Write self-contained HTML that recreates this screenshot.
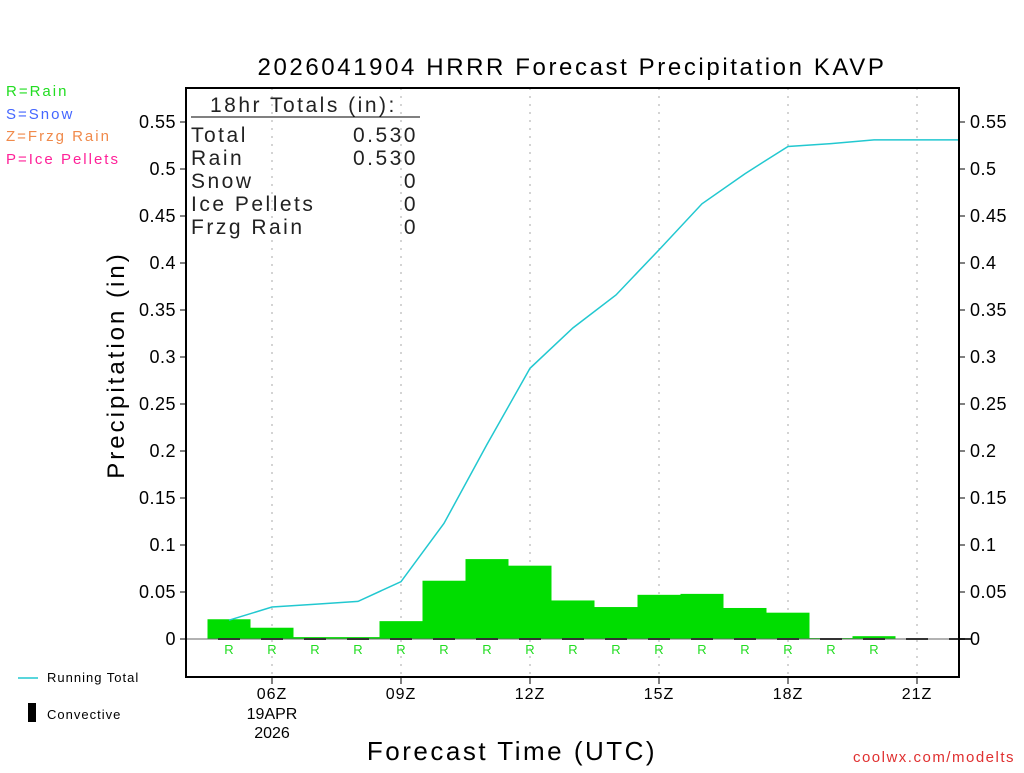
<!DOCTYPE html>
<html><head><meta charset="utf-8"><style>
body{margin:0;background:#fff;width:1024px;height:768px;overflow:hidden}
svg{font-family:"Liberation Sans","DejaVu Sans",sans-serif}
</style></head><body>
<svg id="c" width="1024" height="768" xmlns="http://www.w3.org/2000/svg">
<rect width="1024" height="768" fill="#fff"/>
<text x="572" y="75" font-size="24" text-anchor="middle" letter-spacing="2.6">2026041904 HRRR Forecast Precipitation KAVP</text>
<g font-size="15" letter-spacing="2">
<text x="6" y="96" fill="#22dd22">R=Rain</text>
<text x="6" y="119" fill="#4466ff">S=Snow</text>
<text x="6" y="141" fill="#f08a4b">Z=Frzg Rain</text>
<text x="6" y="164" fill="#ff2299">P=Ice Pellets</text>
</g>
<g id="grid"></g>
<g id="marks"></g>
<rect x="186" y="88" width="773" height="589" fill="none" stroke="#000" stroke-width="2"/>
<g id="axes" font-size="18"></g>
<text transform="translate(124,365) rotate(-90)" font-size="24" text-anchor="middle" letter-spacing="3">Precipitation (in)</text>
<text x="512" y="760" font-size="26" text-anchor="middle" letter-spacing="2.5">Forecast Time (UTC)</text>
<text x="1015" y="762" font-size="15" fill="#e03030" text-anchor="end" letter-spacing="1.5">coolwx.com/modelts</text>
<g font-size="21" letter-spacing="2.5" fill="#222">
<text x="210" y="112">18hr Totals (in):</text>
<line x1="191" y1="117" x2="420" y2="117" stroke="#000"/>
<text x="191" y="142">Total</text><text x="418" y="142" text-anchor="end">0.530</text>
<text x="191" y="165">Rain</text><text x="418" y="165" text-anchor="end">0.530</text>
<text x="191" y="188">Snow</text><text x="418" y="188" text-anchor="end">0</text>
<text x="191" y="211">Ice Pellets</text><text x="418" y="211" text-anchor="end">0</text>
<text x="191" y="234">Frzg Rain</text><text x="418" y="234" text-anchor="end">0</text>
</g>
<g font-size="13" letter-spacing="1">
<line x1="18" y1="678" x2="38" y2="678" stroke="#22c8d0" stroke-width="1.5"/>
<text x="47" y="682">Running Total</text>
<rect x="28" y="703" width="8" height="19" fill="#000"/>
<text x="47" y="719">Convective</text>
</g>
</svg>
<script>
const hours=[5,6,7,8,9,10,11,12,13,14,15,16,17,18,19,20,21,22];
const hourlyPrecip=[0.021,0.012,0.002,0.002,0.019,0.062,0.085,0.078,0.041,0.034,0.047,0.048,0.033,0.028,0.001,0.003,0,0];
const runningTotal=[0.020,0.034,0.037,0.040,0.061,0.123,0.207,0.288,0.331,0.366,0.414,0.463,0.495,0.524,0.527,0.531,0.531,0.531];
const precipType=["R","R","R","R","R","R","R","R","R","R","R","R","R","R","R","R","",""];
const yTicks=[0,0.05,0.1,0.15,0.2,0.25,0.3,0.35,0.4,0.45,0.5,0.55];
const yTickLabels=["0","0.05","0.1","0.15","0.2","0.25","0.3","0.35","0.4","0.45","0.5","0.55"];
const xTicks=[6,9,12,15,18,21];
const xTickLabels=["06Z","09Z","12Z","15Z","18Z","21Z"];
const NS="http://www.w3.org/2000/svg";
const X=h=>272+(h-6)*43;
const Y=v=>639-v*940;
function mk(tag,attrs,parent,txt){const e=document.createElementNS(NS,tag);for(const k in attrs)e.setAttribute(k,attrs[k]);if(txt!==undefined)e.textContent=txt;parent.appendChild(e);return e;}
const grid=document.getElementById('grid'),marks=document.getElementById('marks'),axes=document.getElementById('axes');
xTicks.forEach(h=>{const l=mk('line',{x1:X(h),y1:88,x2:X(h),y2:677,stroke:'#aaa','stroke-dasharray':'2,6'},grid);

});
hours.forEach((h,i)=>{const v=hourlyPrecip[i];if(v<=0)return;
const r=mk('rect',{x:X(h)-21.5,y:Y(v),width:43,height:639-Y(v),fill:'#00dd00'},marks);

});
mk('line',{x1:186,y1:639,x2:959,y2:639,stroke:'#666',"stroke-width":1},marks);
hours.forEach((h,i)=>{const d=mk('rect',{x:X(h)-11,y:638,width:22,height:2,fill:'#333'},marks);


if(precipType[i]){const t=mk('text',{x:X(h),y:654,'font-size':13,fill:'#22dd22','text-anchor':'middle'},marks,precipType[i]);

}});
const pl=mk('polyline',{points:hours.map((h,i)=>X(h)+','+Y(runningTotal[i])).join(' '),fill:'none',stroke:'#22c8d0','stroke-width':1.5},marks);


yTicks.forEach((v,i)=>{const y=Y(v);
mk('line',{x1:180,y1:y,x2:186,y2:y,stroke:'#000'},axes);mk('line',{x1:959,y1:y,x2:965,y2:y,stroke:'#000'},axes);
const a=mk('text',{x:176,y:y+6,'text-anchor':'end','letter-spacing':0.5},axes,yTickLabels[i]);


const b=mk('text',{x:970,y:y+6,'letter-spacing':0.5},axes,yTickLabels[i]);

});
xTicks.forEach((h,i)=>{mk('line',{x1:X(h),y1:677,x2:X(h),y2:684,stroke:'#000'},axes);
const t=mk('text',{x:X(h),y:699,'text-anchor':'middle','font-size':16,'letter-spacing':1},axes,xTickLabels[i]);

});
const d1=mk('text',{x:272,y:719,'text-anchor':'middle','font-size':16},axes,'19APR');


const d2=mk('text',{x:272,y:738,'text-anchor':'middle','font-size':16},axes,'2026');


</script>
</body></html>
